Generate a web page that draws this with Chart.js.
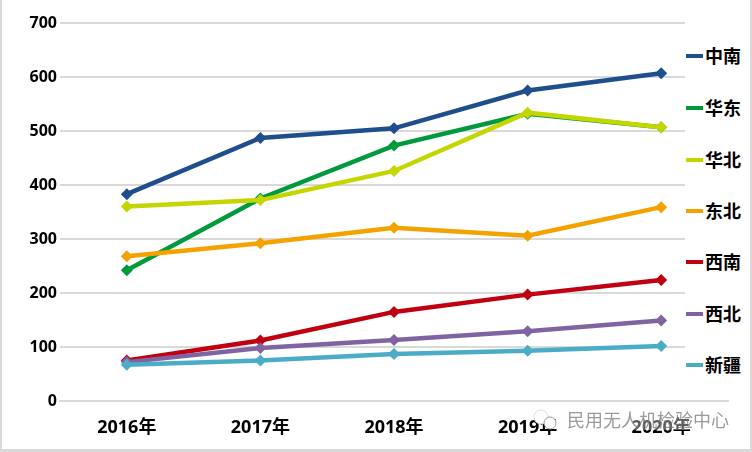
<!DOCTYPE html>
<html>
<head>
<meta charset="utf-8">
<script src="https://cdn.jsdelivr.net/npm/chart.js@4/dist/chart.umd.min.js"></script>
<style>
html, body { margin: 0; padding: 0; background: #fff; }
#wrap { position: relative; width: 752px; height: 452px; overflow: hidden; }
#frame { position: absolute; inset: 0; box-sizing: border-box; border: solid #d9d9d9; border-width: 0 2px 3px 2px; pointer-events: none; }
#legend { position: absolute; left: 685px; top: 16px; width: 65px; height: 372px; background: #fff; }
.item { position: absolute; left: 1px; height: 24px; white-space: nowrap; font: bold 18px "Noto Sans CJK SC"; line-height: 24px; color: #000; }
.item i { display: inline-block; width: 17px; height: 4px; margin-right: 2px; vertical-align: 5px; }
#mark { position: absolute; left: 567px; top: 408px; font: 18px "Noto Sans CJK SC"; line-height: 22px; color: rgba(120,120,120,0.75); background: rgba(255,255,255,0.35); }
#logo { position: absolute; left: 532px; top: 409px; width: 30px; height: 24px; }
</style>
</head>
<body>
<div id="wrap">
    <canvas id="myChart" width="752" height="452"></canvas>
    <div id="legend"></div>
    <svg id="logo" viewBox="0 0 30 24">
        <circle cx="9" cy="8" r="7" fill="#fff" stroke="#ddd"/>
        <circle cx="18" cy="14" r="6" fill="#fff" stroke="#999"/>
    </svg>
    <div id="mark">民用无人机检验中心</div>
    <div id="frame"></div>
</div>
<script>
Chart.defaults.color = "#000000";
Chart.defaults.animation = false;

var labels = ["2016年", "2017年", "2018年", "2019年", "2020年"];
var series = [
    { name: "中南", color: "#1f4e8c", values: [383, 487, 505, 575, 607] },
    { name: "华东", color: "#009a3d", values: [242, 375, 473, 532, 507] },
    { name: "华北", color: "#c4d600", values: [360, 372, 426, 534, 507] },
    { name: "东北", color: "#f5a200", values: [268, 292, 321, 306, 359] },
    { name: "西南", color: "#c00010", values: [75, 112, 165, 197, 224] },
    { name: "西北", color: "#8064a2", values: [72, 98, 113, 129, 149] },
    { name: "新疆", color: "#4bacc6", values: [67, 75, 87, 93, 102] }
];
var legendY = [43, 95, 147, 198, 249, 301, 352];

window.addEventListener('load', function () {
    createChart();
    var html = "";
    series.forEach(function (s, i) {
        html += '<div class="item" style="top:' + (legendY[i] - 16) + 'px"><i style="background:' + s.color + '"></i>' + s.name + '</div>';
    });
    document.getElementById("legend").innerHTML = html;
});

function createChart() {
    const ctx = document.getElementById('myChart').getContext('2d');
    const myChart = new Chart(ctx, {
        type: 'line',
        data: {
            labels: labels,
            datasets: series.map(function (s, i) {
                return {
                    label: s.name,
                    data: s.values,
                    borderColor: s.color,
                    backgroundColor: s.color,
                    borderWidth: 4.5,
                    pointStyle: 'rectRot',
                    pointRadius: 6,
                    pointBorderWidth: 0,
                    tension: 0,
                    order: -i
                };
            })
        },
        options: {
            responsive: false,
            layout: { padding: { top: 23, right: 24, left: 0, bottom: 0 } },
            plugins: { legend: { display: false }, tooltip: { enabled: false } },
            scales: {
                x: {
                    offset: true,
                    afterFit: function (scale) { scale.height = 51; },
                    grid: { display: false },
                    border: { color: '#d9d9d9', width: 2 },
                    ticks: { padding: 8, maxRotation: 0, font: { family: '"Open Sans", "Noto Sans CJK SC"', size: 18, weight: 'bold' } }
                },
                y: {
                    min: 0,
                    max: 700,
                    afterFit: function (scale) { scale.width = 60; },
                    grid: { color: '#d9d9d9', lineWidth: 2, drawTicks: false },
                    border: { display: false },
                    ticks: { stepSize: 100, padding: 3, font: { family: '"Open Sans"', size: 16, weight: 'bold' } }
                }
            }
        }
    });
}
</script>
</body>
</html>
